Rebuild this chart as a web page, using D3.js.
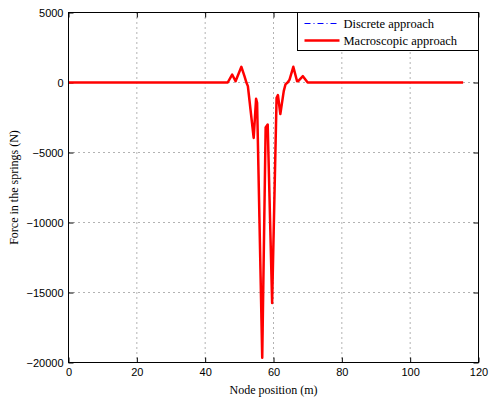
<!DOCTYPE html>
<html>
<head>
<meta charset="utf-8">
<script src="https://cdn.jsdelivr.net/npm/d3@7"></script>
<style>
  body { margin: 0; background: #fff; }
  svg { display: block; }
  .tick text { font-family: "Liberation Sans", Arial, sans-serif; font-size: 11px; fill: #000; }
  .lbl { font-family: "Liberation Serif", "Times New Roman", serif; font-size: 12px; fill: #000; }
</style>
</head>
<body>
<svg></svg>
<script>
// Data: node position (m) vs spring force (N)
var nodePos = [0, 46.6, 47.9, 48.9, 50.6, 51.5, 52.1, 52.5, 54.2, 54.9, 55.2, 56.7, 57.7, 58.3, 59.6,
               60.9, 61.3, 62.0, 63.0, 63.5, 64.2, 64.7, 65.8, 66.9, 67.3, 68.6, 70.0, 115.5];
var forceDiscrete = [0, 0, 570, 90, 1120, 450, -20, -260, -3960, -1160, -1450, -19660, -3210, -3000, -15750,
                     -1100, -900, -2250, -620, -140, 20, 210, 1120, 90, 110, 450, 0, 0];
var forceMacro = forceDiscrete.slice();
var xTicks = [0, 20, 40, 60, 80, 100, 120];
var yTicks = [-20000, -15000, -10000, -5000, 0, 5000];
var seriesNames = ["Discrete approach", "Macroscopic approach"];

var w = 490, h = 405;
var margin = { top: 12.5, right: 11.5, bottom: 42.5, left: 68.5 };
var iw = w - margin.left - margin.right;
var ih = h - margin.top - margin.bottom;

var svg = d3.select("svg").attr("width", w).attr("height", h);
var g = svg.append("g").attr("transform", "translate(" + margin.left + "," + margin.top + ")");

var x = d3.scaleLinear().domain([0, 120]).range([0, iw]);
var y = d3.scaleLinear().domain([-20000, 5000]).range([ih, 0]);

// dotted grid
g.append("g").selectAll("line")
    .data(xTicks.slice(1, -1))
    .enter().append("line")
    .attr("x1", d => x(d)).attr("x2", d => x(d))
    .attr("y1", 0).attr("y2", ih)
    .attr("stroke", "#666").attr("stroke-dasharray", "1,4");
g.append("g").selectAll("line")
    .data(yTicks.slice(1, -1))
    .enter().append("line")
    .attr("x1", 0).attr("x2", iw)
    .attr("y1", d => y(d)).attr("y2", d => y(d))
    .attr("stroke", "#666").attr("stroke-dasharray", "1,4");

// axes with inward ticks, box on
var fmt = d3.format("d");
function style(sel) {
    sel.select(".domain").remove();
    sel.selectAll(".tick line").attr("stroke", "#000");
}
g.append("g").attr("transform", "translate(0," + ih + ")")
    .call(d3.axisBottom(x).tickValues(xTicks).tickSizeInner(-5).tickSizeOuter(0).tickPadding(6).tickFormat(fmt))
    .call(style);
g.append("g")
    .call(d3.axisTop(x).tickValues(xTicks).tickSizeInner(-5).tickSizeOuter(0).tickFormat(""))
    .call(style);
g.append("g")
    .call(d3.axisLeft(y).tickValues(yTicks).tickSizeInner(-5).tickSizeOuter(0).tickPadding(5).tickFormat(fmt))
    .call(style);
g.append("g").attr("transform", "translate(" + iw + ",0)")
    .call(d3.axisRight(y).tickValues(yTicks).tickSizeInner(-5).tickSizeOuter(0).tickFormat(""))
    .call(style);

var line = d3.line().x(d => x(d[0])).y(d => y(d[1]));

g.append("path")
    .datum(d3.zip(nodePos, forceDiscrete))
    .attr("d", line)
    .attr("fill", "none").attr("stroke", "#0000ff").attr("stroke-width", 1)
    .attr("stroke-dasharray", "6,3,1,3");

g.append("path")
    .datum(d3.zip(nodePos, forceMacro))
    .attr("d", line)
    .attr("fill", "none").attr("stroke", "#ff0000").attr("stroke-width", 2.5)
    .attr("stroke-linejoin", "round");

g.append("rect")
    .attr("width", iw).attr("height", ih)
    .attr("fill", "none").attr("stroke", "#000").attr("stroke-width", 1);

// axis labels
svg.append("text").attr("class", "lbl")
    .attr("x", margin.left + iw / 2).attr("y", 394)
    .attr("text-anchor", "middle")
    .text("Node position (m)");
svg.append("text").attr("class", "lbl")
    .attr("transform", "translate(18," + (margin.top + ih / 2) + ") rotate(-90)")
    .attr("text-anchor", "middle")
    .text("Force in the springs (N)");

// legend
var legend = g.append("g").attr("transform", "translate(" + (iw - 181) + ",0)");
legend.append("rect")
    .attr("width", 181).attr("height", 38)
    .attr("fill", "#fff").attr("stroke", "#000");
var items = legend.selectAll(".item")
    .data(seriesNames)
    .enter().append("g")
    .attr("transform", (d, i) => "translate(0," + (11 + i * 17) + ")");
items.append("line")
    .attr("x1", 7).attr("x2", 42)
    .attr("stroke", (d, i) => i === 0 ? "#0000ff" : "#ff0000")
    .attr("stroke-width", (d, i) => i === 0 ? 1 : 2.5)
    .attr("stroke-dasharray", (d, i) => i === 0 ? "6,3,1,3" : null);
items.append("text").attr("class", "lbl")
    .attr("x", 46).attr("dy", "0.35em")
    .style("font-size", "12.5px")
    .text(d => d);
</script>
</body>
</html>
